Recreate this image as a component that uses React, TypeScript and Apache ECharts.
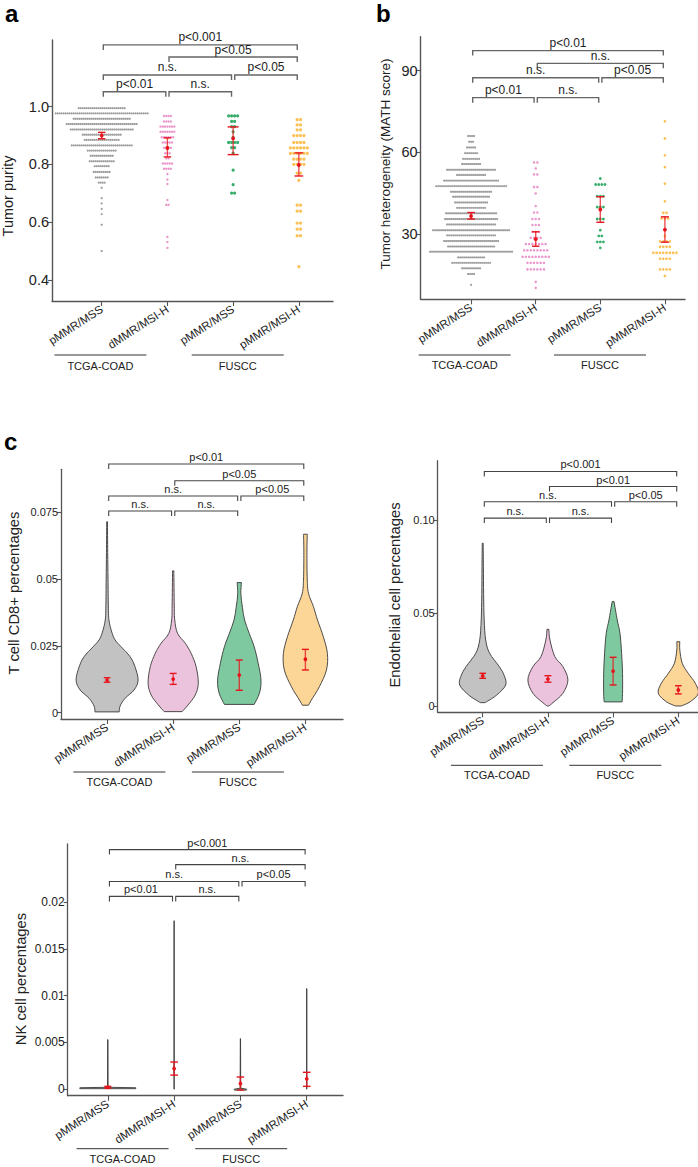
import React, { useEffect, useRef } from 'react';
import * as echarts from 'echarts';

const FONT = '"Liberation Sans", Arial, Helvetica, sans-serif';

// ---------------- categories ----------------
const groupNames = ['pMMR/MSS', 'dMMR/MSI-H', 'pMMR/MSS', 'pMMR/MSI-H'];
const cohortNames = ['TCGA-COAD', 'FUSCC'];
const bracketPairs = [[1, 4], [2, 4], [1, 3], [3, 4], [1, 2], [2, 3]];
const bracketLevelOf = [3, 2, 1, 1, 0, 0];

// ---------------- panel a: tumor purity (value, number of samples) ----------------
const purityTcgaMss = [[0.995, 24], [0.977, 47], [0.958, 29], [0.94, 36], [0.921, 32], [0.903, 20], [0.885, 18], [0.866, 31], [0.848, 15], [0.83, 12], [0.811, 13], [0.794, 8], [0.774, 9], [0.755, 7], [0.737, 4], [0.719, 1], [0.683, 1], [0.665, 1], [0.646, 1], [0.628, 1], [0.591, 1], [0.5, 1]];
const purityTcgaMsi = [[0.968, 4], [0.949, 4], [0.931, 7], [0.913, 7], [0.894, 6], [0.876, 5], [0.858, 4], [0.839, 3], [0.821, 2], [0.803, 5], [0.785, 4], [0.767, 1], [0.748, 1], [0.732, 1], [0.677, 1], [0.66, 2], [0.549, 1], [0.531, 1], [0.511, 1]];
const purityFusccMss = [[0.968, 4], [0.949, 2], [0.931, 2], [0.913, 1], [0.894, 1], [0.876, 4], [0.858, 2], [0.839, 1], [0.78, 1], [0.73, 1], [0.701, 2]];
const purityFusccMsi = [[0.955, 2], [0.937, 2], [0.92, 2], [0.9, 4], [0.876, 4], [0.857, 6], [0.838, 6], [0.818, 4], [0.8, 4], [0.77, 2], [0.745, 1], [0.659, 2], [0.638, 2], [0.597, 2], [0.576, 2], [0.553, 2], [0.446, 1]];
const purityMean = [0.9, 0.857, 0.89, 0.798];
const purityLow = [0.889, 0.826, 0.834, 0.76];
const purityHigh = [0.911, 0.892, 0.93, 0.84];
const purityTicks = [0.4, 0.6, 0.8, 1.0];
const purityBracketLevels = [1.052, 1.11, 1.172, 1.214];
const purityBracketLabels = ['p<0.001', 'p<0.05', 'n.s.', 'p<0.05', 'p<0.01', 'n.s.'];

// ---------------- panel b: MATH score ----------------
const mathTcgaMss = [[66.0, 4], [63.9, 3], [61.8, 5], [59.7, 7], [57.6, 9], [55.7, 10], [53.6, 25], [51.7, 15], [49.6, 28], [47.6, 36], [45.5, 21], [43.7, 19], [41.6, 17], [39.6, 15], [37.6, 26], [35.5, 27], [33.5, 25], [31.4, 39], [29.5, 25], [27.4, 28], [25.4, 24], [23.5, 42], [21.4, 14], [19.4, 20], [17.4, 10], [15.3, 4], [11.3, 1]];
const mathTcgaMsi = [[56.3, 2], [54.1, 1], [51.9, 2], [47.3, 2], [44.9, 1], [40.3, 1], [37.9, 2], [35.5, 3], [33.3, 3], [30.8, 3], [28.6, 4], [26.3, 7], [24.0, 8], [21.6, 9], [19.4, 6], [17.0, 6], [12.4, 1], [10.2, 1]];
const mathFusccMss = [[50.4, 1], [48.2, 4], [43.9, 3], [39.9, 3], [35.5, 3], [31.4, 1], [29.3, 2], [27.1, 3], [24.9, 1]];
const mathFusccMsi = [[71.4, 1], [65.1, 1], [58.9, 1], [54.6, 1], [48.5, 1], [42.0, 1], [37.8, 2], [35.7, 3], [31.4, 1], [29.3, 1], [27.3, 4], [25.3, 4], [23.1, 8], [20.9, 4], [17.0, 4], [14.6, 1]];
const mathMean = [36.6, 28.1, 39.0, 31.6];
const mathLow = [35.5, 25.5, 34.3, 27.0];
const mathHigh = [37.9, 30.8, 43.7, 36.3];
const mathTicks = [30, 60, 90];
const mathBracketLevels = [80.1, 87.4, 92.7, 97.4];
const mathBracketLabels = ['p<0.01', 'n.s.', 'n.s.', 'p<0.05', 'p<0.01', 'n.s.'];

// ---------------- panel c: violins, [value, relative density] bottom -> top ----------------
const cd8Gray = [[0.0003, 0.39], [0.0025, 0.42], [0.0054, 0.58], [0.0085, 0.87], [0.0122, 1.0], [0.0172, 0.9], [0.021, 0.74], [0.0247, 0.45], [0.0272, 0.26], [0.0302, 0.15], [0.0347, 0.06], [0.04, 0.04], [0.05, 0.03], [0.06, 0.02], [0.0715, 0.012]];
const cd8Pink = [[0.0004, 0.29], [0.0029, 0.48], [0.0066, 0.71], [0.011, 0.81], [0.0172, 0.74], [0.0222, 0.58], [0.026, 0.39], [0.0297, 0.14], [0.0347, 0.05], [0.04, 0.035], [0.0531, 0.02]];
const cd8Green = [[0.0031, 0.48], [0.0073, 0.65], [0.0122, 0.7], [0.0185, 0.61], [0.0247, 0.48], [0.0297, 0.32], [0.0347, 0.17], [0.0395, 0.1], [0.0445, 0.05], [0.0487, 0.07]];
const cd8Orange = [[0.0028, 0.1], [0.0047, 0.19], [0.0097, 0.45], [0.016, 0.68], [0.0222, 0.71], [0.0284, 0.58], [0.0347, 0.39], [0.0397, 0.26], [0.0447, 0.1], [0.05, 0.06], [0.06, 0.05], [0.0668, 0.06]];
const cd8Mean = [0.0122, 0.0126, 0.0141, 0.02];
const cd8Low = [0.0114, 0.0106, 0.0084, 0.016];
const cd8High = [0.0131, 0.0147, 0.0197, 0.0237];
const cd8Ticks = [0, 0.025, 0.05, 0.075];
const cd8BracketLevels = [0.0755, 0.0811, 0.0868, 0.0931];
const cd8BracketLabels = ['p<0.01', 'p<0.05', 'n.s.', 'p<0.05', 'n.s.', 'n.s.'];

const endoGray = [[0.0018, 0.1], [0.0025, 0.2], [0.0059, 0.61], [0.0113, 1.0], [0.0165, 0.93], [0.0212, 0.72], [0.0284, 0.3], [0.0355, 0.13], [0.0463, 0.065], [0.06, 0.04], [0.075, 0.03], [0.0876, 0.02]];
const endoPink = [[0.0, 0.04], [0.0018, 0.22], [0.0068, 0.65], [0.014, 0.87], [0.0212, 0.65], [0.0266, 0.3], [0.0355, 0.09], [0.0413, 0.04]];
const endoGreen = [[0.0022, 0.39], [0.0068, 0.41], [0.0176, 0.41], [0.0284, 0.37], [0.039, 0.3], [0.0463, 0.18], [0.0562, 0.04]];
const endoOrange = [[0.0, 0.13], [0.0023, 0.52], [0.0068, 0.87], [0.0122, 0.74], [0.0176, 0.43], [0.023, 0.17], [0.0302, 0.065], [0.0346, 0.065]];
const endoMean = [0.0162, 0.0145, 0.0188, 0.0086];
const endoLow = [0.0149, 0.0128, 0.0113, 0.0065];
const endoHigh = [0.0176, 0.0163, 0.0262, 0.0109];
const endoTicks = [0, 0.05, 0.1];
const endoBracketLevels = [0.1011, 0.1099, 0.1181, 0.1262];
const endoBracketLabels = ['p<0.001', 'p<0.01', 'n.s.', 'p<0.05', 'n.s.', 'n.s.'];

const nkGray = [[0.00005, 1.0], [0.00015, 1.0], [0.0002, 0.01], [0.0053, 0.004]];
const nkPink = [[0.0, 0.004], [0.018, 0.004]];
const nkGreen = [[-0.0001, 0.22], [0.0, 0.22], [0.0001, 0.01], [0.0054, 0.004]];
const nkOrange = [[0.0, 0.004], [0.01075, 0.004]];
const nkMean = [0.0002, 0.0022, 0.0006, 0.0011];
const nkLow = [0.0001, 0.0015, -0.0001, 0.0003];
const nkHigh = [0.0003, 0.0029, 0.0013, 0.0018];
const nkTicks = [0, 0.005, 0.01, 0.015, 0.02];
const nkBracketLevels = [0.0206, 0.0222, 0.024, 0.0256];
const nkBracketLabels = ['p<0.001', 'n.s.', 'n.s.', 'p<0.05', 'p<0.01', 'n.s.'];

// ---------------- styles ----------------
const dotColors = ['#858585', '#e37cbf', '#089946', '#fbb02c'];
const violinColors = ['#c2c2c2', '#ecc3dc', '#7fc9a0', '#fcd697'];
const RED = '#e8141c';
const AXIS = '#555555';
const TEXT = '#222222';

type Panel = {
  kind: 'dots' | 'violin';
  left: number; top: number; width: number; height: number;
  xMin: number; xMax: number; yMin: number; yMax: number;
  ticks: number[]; fmt: (v: number) => string; tickFont: number;
  bins?: number[][][]; dotSize?: number[]; dotGap?: number[];
  profiles?: number[][][]; violinHW?: number; smooth?: boolean;
  mean: number[]; low: number[]; high: number[]; capHW: number[];
  levels: number[]; bLabels: string[]; bFont: number; bWidth: number; bColor: string;
  groupCenters: number[]; groupOffset: number; groupText: number;
  axisWidth: number;
};

const panels: Panel[] = [
  {
    kind: 'dots', left: 52, top: 40, width: 281, height: 261,
    xMin: 0.2435, xMax: 4.52, yMin: 0.327, yMax: 1.231,
    ticks: purityTicks, fmt: (v) => v.toFixed(1), tickFont: 14.5,
    bins: [purityTcgaMss, purityTcgaMsi, purityFusccMss, purityFusccMsi],
    dotSize: [2.2, 2.4, 3.2, 3.2], dotGap: [2.0, 2.3, 3.0, 3.4],
    mean: purityMean, low: purityLow, high: purityHigh, capHW: [3.7, 3.7, 5.5, 4.3],
    levels: purityBracketLevels, bLabels: purityBracketLabels, bFont: 12, bWidth: 1.4, bColor: '#666666',
    groupCenters: [0.98, 3.07], groupOffset: 54, groupText: 65, axisWidth: 1.4,
  },
  {
    kind: 'dots', left: 420.7, top: 36.7, width: 264.3, height: 262.6,
    xMin: 0.2198, xMax: 4.311, yMin: 6, yMax: 102.5,
    ticks: mathTicks, fmt: (v) => String(v), tickFont: 14.5,
    bins: [mathTcgaMss, mathTcgaMsi, mathFusccMss, mathFusccMsi],
    dotSize: [2.2, 2.5, 2.8, 2.7], dotGap: [2.0, 3.3, 3.1, 3.3],
    mean: mathMean, low: mathLow, high: mathHigh, capHW: [3.7, 3.7, 4.0, 4.0],
    levels: mathBracketLevels, bLabels: mathBracketLabels, bFont: 12, bWidth: 1.4, bColor: '#666666',
    groupCenters: [0.9, 2.995], groupOffset: 55.7, groupText: 66, axisWidth: 1.4,
  },
  {
    kind: 'violin', left: 61, top: 469.3, width: 282, height: 249.7,
    xMin: 0.3026, xMax: 4.569, yMin: -0.00236, yMax: 0.0911,
    ticks: cd8Ticks, fmt: (v) => String(v), tickFont: 11,
    profiles: [cd8Gray, cd8Pink, cd8Green, cd8Orange], violinHW: 0.469, smooth: true,
    mean: cd8Mean, low: cd8Low, high: cd8High, capHW: [3.3, 3.5, 3.5, 3.5],
    levels: cd8BracketLevels, bLabels: cd8BracketLabels, bFont: 11, bWidth: 1.1, bColor: '#444444',
    groupCenters: [1.186, 2.979], groupOffset: 53, groupText: 63, axisWidth: 1.3,
  },
  {
    kind: 'violin', left: 437.7, top: 460.7, width: 260.3, height: 251.6,
    xMin: 0.3098, xMax: 4.302, yMin: -0.0034, yMax: 0.132,
    ticks: endoTicks, fmt: (v) => (v === 0 ? '0' : v.toFixed(2)), tickFont: 11,
    profiles: [endoGray, endoPink, endoGreen, endoOrange], violinHW: 0.353, smooth: true,
    mean: endoMean, low: endoLow, high: endoHigh, capHW: [3.3, 3.5, 3.5, 3.3],
    levels: endoBracketLevels, bLabels: endoBracketLabels, bFont: 11, bWidth: 1.1, bColor: '#444444',
    groupCenters: [1.219, 3.034], groupOffset: 53, groupText: 63, axisWidth: 1.3,
  },
  {
    kind: 'violin', left: 67.7, top: 844, width: 275.3, height: 251.7,
    xMin: 0.395, xMax: 4.547, yMin: -0.0007, yMax: 0.0262,
    ticks: nkTicks, fmt: (v) => String(v), tickFont: 12,
    profiles: [nkGray, nkPink, nkGreen, nkOrange], violinHW: 0.422, smooth: false,
    mean: nkMean, low: nkLow, high: nkHigh, capHW: [3.5, 3.8, 3.8, 3.8],
    levels: nkBracketLevels, bLabels: nkBracketLabels, bFont: 11, bWidth: 1.1, bColor: '#444444',
    groupCenters: [1.222, 3.012], groupOffset: 53, groupText: 63, axisWidth: 1.3,
  },
];

function beeswarm(bins: number[][], cat: number, gapUnits: number) {
  const pts: number[][] = [];
  bins.forEach(([v, n]) => {
    for (let j = 0; j < n; j++) pts.push([cat + (j - (n - 1) / 2) * gapUnits, v]);
  });
  return pts;
}

function sidePath(pts: number[][], smooth: boolean) {
  let d = '';
  if (!smooth || pts.length < 3) {
    for (let i = 1; i < pts.length; i++) d += ` L${pts[i][0]},${pts[i][1]}`;
    return d;
  }
  for (let i = 0; i < pts.length - 1; i++) {
    const p0 = pts[Math.max(0, i - 1)];
    const p1 = pts[i];
    const p2 = pts[i + 1];
    const p3 = pts[Math.min(pts.length - 1, i + 2)];
    const c1x = p1[0] + (p2[0] - p0[0]) / 6;
    const c1y = p1[1] + (p2[1] - p0[1]) / 6;
    const c2x = p2[0] - (p3[0] - p1[0]) / 6;
    const c2y = p2[1] - (p3[1] - p1[1]) / 6;
    d += ` C${c1x},${c1y} ${c2x},${c2y} ${p2[0]},${p2[1]}`;
  }
  return d;
}

function buildOption() {
  const grid: any[] = [];
  const xAxis: any[] = [];
  const yAxis: any[] = [];
  const series: any[] = [];

  panels.forEach((P, gi) => {
    const pxPerUnit = P.width / (P.xMax - P.xMin);
    grid.push({ left: P.left, top: P.top, width: P.width, height: P.height, containLabel: false });
    xAxis.push({
      type: 'value', gridIndex: gi, min: P.xMin, max: P.xMax,
      splitLine: { show: false },
      axisLine: { show: true, onZero: false, lineStyle: { color: AXIS, width: P.axisWidth } },
      axisTick: { show: true, customValues: [1, 2, 3, 4], length: 5, lineStyle: { color: AXIS, width: 1.1 } },
      axisLabel: {
        show: true, customValues: [1, 2, 3, 4], rotate: 33, margin: 7,
        formatter: (v: number) => groupNames[Math.round(v) - 1] || '',
        fontFamily: FONT, fontSize: 11.5, color: TEXT,
      },
    });
    yAxis.push({
      type: 'value', gridIndex: gi, min: P.yMin, max: P.yMax,
      splitLine: { show: false },
      axisLine: { show: true, onZero: false, lineStyle: { color: AXIS, width: P.axisWidth } },
      axisTick: { show: true, customValues: P.ticks, length: 4, lineStyle: { color: AXIS, width: 1.1 } },
      axisLabel: {
        show: true, customValues: P.ticks, margin: 3,
        formatter: (v: number) => P.fmt(v),
        fontFamily: FONT, fontSize: P.tickFont, color: TEXT,
      },
    });

    if (P.kind === 'violin' && P.profiles) {
      const profiles = P.profiles;
      const hw = P.violinHW as number;
      const smooth = !!P.smooth;
      series.push({
        type: 'custom', xAxisIndex: gi, yAxisIndex: gi, silent: true, clip: false, z: 2,
        data: [[1], [2], [3], [4]],
        renderItem: (params: any, api: any) => {
          const i = params.dataIndex;
          const cat = api.value(0);
          const prof = profiles[i];
          const right = prof.map(([v, d]) => api.coord([cat + d * hw, v]));
          const left = prof.map(([v, d]) => api.coord([cat - d * hw, v])).reverse();
          let d = `M${right[0][0]},${right[0][1]}` + sidePath(right, smooth);
          d += ` L${left[0][0]},${left[0][1]}` + sidePath(left, smooth) + ' Z';
          return {
            type: 'path',
            shape: { pathData: d },
            style: { fill: violinColors[i], stroke: '#3a3a3a', lineWidth: 0.9 },
          };
        },
      });
    }

    if (P.kind === 'dots' && P.bins) {
      P.bins.forEach((bins, k) => {
        series.push({
          type: 'scatter', xAxisIndex: gi, yAxisIndex: gi, silent: true, z: 2,
          symbol: 'circle', symbolSize: (P.dotSize as number[])[k],
          itemStyle: { color: dotColors[k] },
          data: beeswarm(bins, k + 1, (P.dotGap as number[])[k] / pxPerUnit),
        });
      });
    }

    const capHW = P.capHW;
    series.push({
      type: 'custom', xAxisIndex: gi, yAxisIndex: gi, silent: true, clip: false, z: 5,
      data: P.mean.map((m, k) => [k + 1, P.low[k], m, P.high[k]]),
      renderItem: (params: any, api: any) => {
        const k = params.dataIndex;
        const x = api.value(0);
        const lo = api.coord([x, api.value(1)]);
        const mid = api.coord([x, api.value(2)]);
        const hi = api.coord([x, api.value(3)]);
        const w = capHW[k];
        const ls = { stroke: RED, lineWidth: 1.4 };
        return {
          type: 'group',
          children: [
            { type: 'line', shape: { x1: lo[0], y1: lo[1], x2: hi[0], y2: hi[1] }, style: { stroke: RED, lineWidth: 1.4, opacity: 0.75 } },
            { type: 'line', shape: { x1: lo[0] - w, y1: lo[1], x2: lo[0] + w, y2: lo[1] }, style: ls },
            { type: 'line', shape: { x1: hi[0] - w, y1: hi[1], x2: hi[0] + w, y2: hi[1] }, style: ls },
            { type: 'circle', shape: { cx: mid[0], cy: mid[1], r: 1.9 }, style: { fill: RED } },
          ],
        };
      },
    });

    const bLabels = P.bLabels;
    const bFont = P.bFont;
    const bWidth = P.bWidth;
    const bColor = P.bColor;
    series.push({
      type: 'custom', xAxisIndex: gi, yAxisIndex: gi, silent: true, clip: false, z: 4,
      data: bracketPairs.map((p, j) => [p[0], p[1], P.levels[bracketLevelOf[j]]]),
      renderItem: (params: any, api: any) => {
        const j = params.dataIndex;
        const y = api.value(2);
        const a = api.coord([api.value(0), y]);
        const b = api.coord([api.value(1), y]);
        const g = 1.6;
        const leg = 5;
        return {
          type: 'group',
          children: [
            {
              type: 'polyline',
              shape: { points: [[a[0] + g, a[1] + leg], [a[0] + g, a[1]], [b[0] - g, b[1]], [b[0] - g, b[1] + leg]] },
              style: { stroke: bColor, lineWidth: bWidth, fill: 'none' },
            },
            {
              type: 'text', x: (a[0] + b[0]) / 2, y: a[1] - 1.5,
              style: { text: bLabels[j], fill: TEXT, fontFamily: FONT, fontSize: bFont, align: 'center', verticalAlign: 'bottom' },
            },
          ],
        };
      },
    });

    const yBase = P.yMin;
    const off = P.groupOffset;
    const toff = P.groupText;
    series.push({
      type: 'custom', xAxisIndex: gi, yAxisIndex: gi, silent: true, clip: false, z: 4,
      data: P.groupCenters.map((c) => [c, yBase]),
      renderItem: (params: any, api: any) => {
        const p = api.coord([api.value(0), api.value(1)]);
        return {
          type: 'group',
          children: [
            { type: 'line', shape: { x1: p[0] - 46, y1: p[1] + off, x2: p[0] + 46, y2: p[1] + off }, style: { stroke: '#333333', lineWidth: 1 } },
            {
              type: 'text', x: p[0], y: p[1] + toff,
              style: { text: cohortNames[params.dataIndex], fill: TEXT, fontFamily: FONT, fontSize: 11, align: 'center', verticalAlign: 'middle' },
            },
          ],
        };
      },
    });
  });

  const titleStyle = (text: string, size: number) => ({ text, fill: TEXT, fontFamily: FONT, fontSize: size, align: 'center', verticalAlign: 'middle' });
  const graphic = [
    { type: 'text', left: 5, top: 1, style: { text: 'a', fill: '#000', fontFamily: FONT, fontSize: 24, fontWeight: 'bold' } },
    { type: 'text', left: 376, top: 1, style: { text: 'b', fill: '#000', fontFamily: FONT, fontSize: 24, fontWeight: 'bold' } },
    { type: 'text', left: 4, top: 429, style: { text: 'c', fill: '#000', fontFamily: FONT, fontSize: 24, fontWeight: 'bold' } },
    { type: 'text', x: 8, y: 196, rotation: Math.PI / 2, style: titleStyle('Tumor purity', 14.5) },
    { type: 'text', x: 385, y: 164, rotation: Math.PI / 2, style: titleStyle('Tumor heterogeneity (MATH score)', 13.5) },
    { type: 'text', x: 14, y: 593, rotation: Math.PI / 2, style: titleStyle('T cell CD8+ percentages', 14.8) },
    { type: 'text', x: 395, y: 595, rotation: Math.PI / 2, style: titleStyle('Endothelial cell percentages', 14.8) },
    { type: 'text', x: 21, y: 979, rotation: Math.PI / 2, style: titleStyle('NK cell percentages', 14.8) },
  ];

  return {
    animation: false,
    backgroundColor: '#ffffff',
    textStyle: { fontFamily: FONT },
    grid, xAxis, yAxis, series, graphic,
  };
}

export default function App() {
  const ref = useRef<HTMLDivElement>(null);
  useEffect(() => {
    if (!ref.current) return;
    const chart = echarts.init(ref.current, undefined, { renderer: 'svg' });
    chart.setOption(buildOption() as any);
    return () => chart.dispose();
  }, []);
  return (
    <div
      ref={ref}
      style={{ position: 'absolute', left: 0, top: 0, width: 698, height: 1167, background: '#fff' }}
    />
  );
}
